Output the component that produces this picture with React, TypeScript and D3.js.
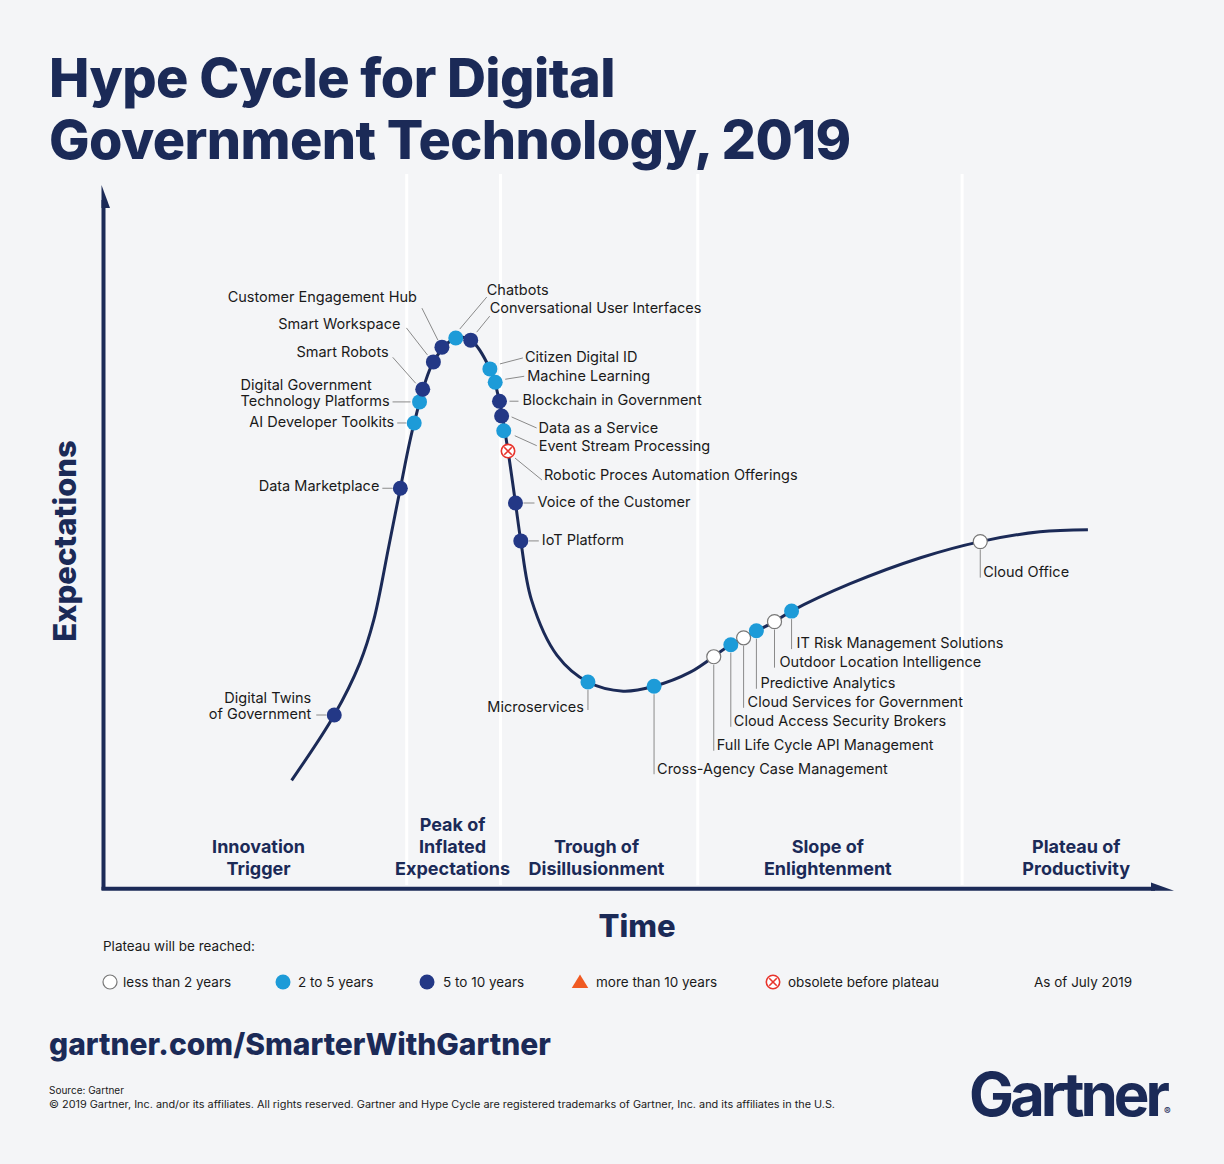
import React from "react";
import * as d3 from "d3";

// ---------- DATA ----------
// Hype curve shape: [time, expectations] in 0..100 units
const curveTime = [17.6, 21.6, 24.0, 25.3, 26.7, 27.8, 29.1, 30.9, 33.0, 34.4, 36.2, 37.1, 37.9, 38.6, 39.1, 40.1, 42.5, 45.4, 48.7, 51.6, 55.0, 58.8, 62.9, 64.5, 70.0, 76.6, 82.2, 87.8, 92.3];
const curveExp = [15.2, 24.5, 31.9, 38.0, 48.4, 56.8, 66.1, 74.8, 78.2, 77.9, 73.8, 69.2, 62.1, 54.7, 49.3, 40.9, 33.0, 29.2, 27.9, 28.6, 30.6, 34.5, 37.8, 39.3, 43.2, 46.9, 49.2, 50.6, 50.9];

const techNames = [
  "Digital Twins|of Government",
  "Data Marketplace",
  "AI Developer Toolkits",
  "Digital Government|Technology Platforms",
  "Smart Robots",
  "Smart Workspace",
  "Customer Engagement Hub",
  "Chatbots",
  "Conversational User Interfaces",
  "Citizen Digital ID",
  "Machine Learning",
  "Blockchain in Government",
  "Data as a Service",
  "Event Stream Processing",
  "Robotic Proces Automation Offerings",
  "Voice of the Customer",
  "IoT Platform",
  "Microservices",
  "Cross-Agency Case Management",
  "Full Life Cycle API Management",
  "Cloud Access Security Brokers",
  "Cloud Services for Government",
  "Predictive Analytics",
  "Outdoor Location Intelligence",
  "IT Risk Management Solutions",
  "Cloud Office",
];
const techTime = [21.6, 27.8, 29.1, 29.6, 29.9, 30.9, 31.7, 33.0, 34.4, 36.2, 36.7, 37.1, 37.3, 37.5, 37.9, 38.6, 39.1, 45.4, 51.6, 57.2, 58.8, 60.0, 61.2, 62.9, 64.5, 82.2];
const techExp = [24.5, 56.8, 66.1, 69.1, 70.9, 74.8, 76.9, 78.2, 77.9, 73.8, 71.9, 69.2, 67.1, 65.0, 62.1, 54.7, 49.3, 29.2, 28.6, 32.8, 34.5, 35.5, 36.5, 37.8, 39.3, 49.2];
// plateau category: 0 = <2y, 1 = 2-5y, 2 = 5-10y, 3 = >10y, 4 = obsolete
const techCat = [2, 2, 1, 1, 2, 2, 2, 1, 2, 1, 1, 2, 2, 1, 4, 2, 2, 1, 1, 0, 1, 0, 1, 0, 1, 0];

const phaseNames = ["Innovation|Trigger", "Peak of|Inflated|Expectations", "Trough of|Disillusionment", "Slope of|Enlightenment", "Plateau of|Productivity"];
const phaseCenters = [14.5, 32.7, 46.2, 67.9, 91.2];
const phaseBounds = [28.4, 37.2, 55.7, 80.5];

const legendLabels = ["less than 2 years", "2 to 5 years", "5 to 10 years", "more than 10 years", "obsolete before plateau"];

// ---------- LAYOUT (label offsets from dot, px) ----------
type Lay = { dx: number; dy: number; anchor: "start" | "end"; l: [number, number, number, number] };
const layout: Lay[] = [
  { dx: -23, dy: -17, anchor: "end", l: [-18, 0, -8, 0] },
  { dx: -21, dy: -2, anchor: "end", l: [-18, 0, -8, 0] },
  { dx: -20, dy: -1, anchor: "end", l: [-17, 0, -8, 0] },
  { dx: -179, dy: -17, anchor: "start", l: [-27, 0, -9, 0] },
  { dx: -34, dy: -37, anchor: "end", l: [-30, -32, -7, -6] },
  { dx: -33, dy: -38, anchor: "end", l: [-27, -34, -6, -7] },
  { dx: -25, dy: -50, anchor: "end", l: [-20, -39, -4, -7] },
  { dx: 31, dy: -48, anchor: "start", l: [4, -9, 31, -41] },
  { dx: 19, dy: -32, anchor: "start", l: [6, -8, 19, -24] },
  { dx: 35, dy: -12, anchor: "start", l: [10, -5, 33, -11] },
  { dx: 32, dy: -6, anchor: "start", l: [10, -3, 29, -6] },
  { dx: 23, dy: -1, anchor: "start", l: [10, 0, 19, 0] },
  { dx: 37, dy: 12, anchor: "start", l: [10, 1, 35, 12] },
  { dx: 35, dy: 15, anchor: "start", l: [11, 5, 33, 15] },
  { dx: 36, dy: 24, anchor: "start", l: [7, 7, 34, 29] },
  { dx: 22, dy: -1, anchor: "start", l: [8, 0, 19, 0] },
  { dx: 21, dy: -1, anchor: "start", l: [8, 0, 18, 0] },
  { dx: -4, dy: 25, anchor: "end", l: [0, 8, 0, 28] },
  { dx: 3, dy: 83, anchor: "start", l: [0, 8, 0, 88] },
  { dx: 3, dy: 88, anchor: "start", l: [0, 8, 0, 94] },
  { dx: 3, dy: 76, anchor: "start", l: [0, 8, 0, 82] },
  { dx: 4, dy: 64, anchor: "start", l: [0, 8, 0, 70] },
  { dx: 4, dy: 52, anchor: "start", l: [0, 8, 0, 58] },
  { dx: 5, dy: 40, anchor: "start", l: [0, 8, 0, 46] },
  { dx: 5, dy: 32, anchor: "start", l: [0, 8, 0, 38] },
  { dx: 3, dy: 30, anchor: "start", l: [0, 8, 0, 36] },
];

const NAVY = "#1b2a57";
const DARK_DOT = "#233886";
const LIGHT_DOT = "#1d9bd8";
const RED = "#e8342c";
const ORANGE = "#f05a22";
const BG = "#f4f5f7";
const FONT = "Inter, 'Noto Sans', sans-serif";

function Marker({ cat, cx, cy, r }: { cat: number; cx: number; cy: number; r: number }) {
  if (cat === 0) return <circle cx={cx} cy={cy} r={r - 0.5} fill="#fff" stroke="#777" strokeWidth={1.2} />;
  if (cat === 1) return <circle cx={cx} cy={cy} r={r} fill={LIGHT_DOT} />;
  if (cat === 2) return <circle cx={cx} cy={cy} r={r} fill={DARK_DOT} />;
  if (cat === 3) {
    const p = d3.path();
    p.moveTo(cx, cy - r);
    p.lineTo(cx + r * 1.1, cy + r * 0.8);
    p.lineTo(cx - r * 1.1, cy + r * 0.8);
    p.closePath();
    return <path d={p.toString()} fill={ORANGE} />;
  }
  const k = r * 0.5;
  return (
    <g>
      <circle cx={cx} cy={cy} r={r - 0.8} fill="#fff" stroke={RED} strokeWidth={1.6} />
      <line x1={cx - k} y1={cy - k} x2={cx + k} y2={cy + k} stroke={RED} strokeWidth={1.6} />
      <line x1={cx - k} y1={cy + k} x2={cx + k} y2={cy - k} stroke={RED} strokeWidth={1.6} />
    </g>
  );
}

export default function App() {
  const W = 1224, H = 1164;
  const x = d3.scaleLinear().domain([0, 100]).range([104, 1170]);
  const y = d3.scaleLinear().domain([0, 100]).range([887, 185]);

  const line = d3
    .line<number>()
    .x((_, i) => x(curveTime[i]))
    .y((_, i) => y(curveExp[i]))
    .curve(d3.curveCatmullRom.alpha(0.5));
  const curvePath = line(curveTime.map((_, i) => i)) || "";

  const yArrow = d3.path();
  yArrow.moveTo(101.5, 185);
  yArrow.lineTo(110, 208);
  yArrow.lineTo(101.5, 208);
  yArrow.closePath();
  const xArrow = d3.path();
  xArrow.moveTo(1151, 882.5);
  xArrow.lineTo(1174, 890.8);
  xArrow.lineTo(1151, 890.8);
  xArrow.closePath();

  const legendX = [110, 283, 427, 580, 773];
  const legendTextX = [123, 298, 443, 596, 788];

  return (
    <svg width={W} height={H} style={{ position: "absolute", left: 0, top: 0, display: "block" }} fontFamily={FONT}>
      <rect x={0} y={0} width={W} height={H} fill={BG} />
      {/* Title */}
      <text x={49} y={97} fontSize={54} fontWeight={800} fill={NAVY} letterSpacing={-0.6}>Hype Cycle for Digital</text>
      <text x={49} y={159} fontSize={54} fontWeight={800} fill={NAVY} letterSpacing={-0.6}>Government Technology, 2019</text>

      {/* phase separators */}
      {phaseBounds.map((b, i) => (
        <line key={i} x1={x(b)} x2={x(b)} y1={174} y2={885} stroke="#ffffff" strokeWidth={3} />
      ))}

      {/* axes */}
      <line x1={103.5} x2={103.5} y1={200} y2={890} stroke={NAVY} strokeWidth={4} />
      <path d={yArrow.toString()} fill={NAVY} />
      <line x1={101.5} x2={1155} y1={888.8} y2={888.8} stroke={NAVY} strokeWidth={4} />
      <path d={xArrow.toString()} fill={NAVY} />

      {/* curve */}
      <path d={curvePath} fill="none" stroke={NAVY} strokeWidth={3} />

      {/* leaders & labels */}
      {techNames.map((n, i) => {
        const cx = x(techTime[i]), cy = y(techExp[i]);
        const L = layout[i];
        const lines = n.split("|");
        return (
          <g key={"l" + i}>
            <line x1={cx + L.l[0]} y1={cy + L.l[1]} x2={cx + L.l[2]} y2={cy + L.l[3]} stroke="#8a8a8a" strokeWidth={1} />
            {lines.map((t, j) => (
              <text
                key={j}
                x={cx + L.dx}
                y={cy + L.dy + j * 16}
                dy="0.35em"
                fontSize={14.5}
                fill="#1a1a1a"
                textAnchor={L.anchor}
              >
                {t}
              </text>
            ))}
          </g>
        );
      })}

      {/* markers */}
      {techNames.map((_, i) => (
        <Marker key={"m" + i} cat={techCat[i]} cx={x(techTime[i])} cy={y(techExp[i])} r={7.5} />
      ))}

      {/* phase labels */}
      {phaseNames.map((p, i) => {
        const ls = p.split("|");
        return ls.map((t, j) => (
          <text
            key={i + "-" + j}
            x={x(phaseCenters[i])}
            y={869 - (ls.length - 1 - j) * 22}
            dy="0.35em"
            textAnchor="middle"
            fontSize={18}
            fontWeight={700}
            fill={NAVY}
          >
            {t}
          </text>
        ));
      })}

      {/* axis titles */}
      <text transform="translate(65,541) rotate(-90)" textAnchor="middle" dy="0.35em" fontSize={31} fontWeight={800} fill={NAVY}>Expectations</text>
      <text x={637} y={926} textAnchor="middle" dy="0.35em" fontSize={31} fontWeight={800} fill={NAVY}>Time</text>

      {/* legend */}
      <text x={103} y={946} dy="0.35em" fontSize={13.5} fill="#1a1a1a">Plateau will be reached:</text>
      {legendLabels.map((t, i) => (
        <g key={"lg" + i}>
          <Marker cat={i} cx={legendX[i]} cy={982} r={7.5} />
          <text x={legendTextX[i]} y={982} dy="0.35em" fontSize={13.5} fill="#1a1a1a">{t}</text>
        </g>
      ))}
      <text x={1034} y={982} dy="0.35em" fontSize={13.5} fill="#1a1a1a">As of July 2019</text>

      {/* footer */}
      <text x={49} y={1055} fontSize={30} fontWeight={800} fill={NAVY}>gartner.com/SmarterWithGartner</text>
      <text x={49} y={1094} fontSize={10} fill="#1a1a1a">Source: Gartner</text>
      <text x={49} y={1108} fontSize={10} fill="#1a1a1a" textLength={786} lengthAdjust="spacingAndGlyphs">© 2019 Gartner, Inc. and/or its affiliates. All rights reserved. Gartner and Hype Cycle are registered trademarks of Gartner, Inc. and its affiliates in the U.S.</text>
      <text x={969} y={1116} fontSize={60} fontWeight={700} fill={NAVY} letterSpacing={-4}>Gartner</text>
      <text x={1164} y={1115} fontSize={10} fontWeight={600} fill={NAVY}>®</text>
    </svg>
  );
}
